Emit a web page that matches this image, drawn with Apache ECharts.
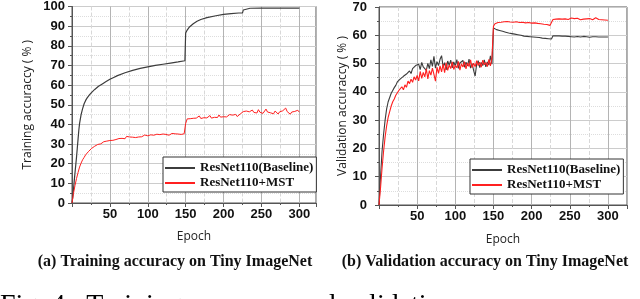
<!DOCTYPE html>
<html>
<head>
<meta charset="utf-8">
<script src="https://cdn.jsdelivr.net/npm/echarts@6/dist/echarts.min.js"></script>
<style>
html,body{margin:0;padding:0;background:#fff;}
#c{width:640px;height:299px;}
</style>
</head>
<body>
<div id="c"></div>
<script>
// ---- data ----
const seriesNames = ['ResNet110(Baseline)', 'ResNet110+MST'];
const xTickLabels = [50, 100, 150, 200, 250, 300];

// Training accuracy, baseline (smooth curve, sampled epochs)
const trainBaseEpochs = [0,1,2,3,4,5,6,7,8,9,10,12,14,16,18,20,23,26,30,35,40,45,50,55,60,70,80,90,100,110,120,130,140,149,150,152,155,160,165,170,178,190,200,210,220,225,226,228,235,250,275,300];
const trainBaseAcc = [0,3,7,11.5,15.5,19.5,23.5,28,32.5,37,40.5,45,48,50.5,52.2,53.5,55,56.3,57.8,59.4,60.6,61.8,63,63.9,64.8,66.3,67.5,68.5,69.3,70,70.6,71.2,71.8,72.4,86.5,88,89.6,91.2,92.5,93.4,94.3,95.3,96,96.4,96.7,96.8,98.2,98.7,99.1,99.2,99.2,99.2];

// Noisy series sampled every 2 epochs (0..300)
const epochs2 = Array.from({length: 151}, (_, i) => i * 2);

const trainMstAcc = [
 0,5,9,12.5,15.5,18.3,20.3,22,23.2,24.5,25.2,26.3,26.9,27.8,28.1,28.9,29.2,29.8,30.2,30.1,30.8,31.2,30.9,31.5,31.3,
 31.8,32.2,31.9,32.5,32.3,32.1,32.8,32.4,32.9,33.4,32.7,33.9,33.2,33.6,34.3,33.5,33.8,33.3,34.1,33.6,
 34.4,33.7,33.9,34.6,33.8,34.2,34.0,34.7,33.9,34.5,34.3,35.0,34.4,34.8,34.2,35.1,34.6,34.9,35.3,34.5,
 35.0,35.4,34.8,35.2,36.0,35.1,35.5,34.9,35.8,35.2,
 40.5,42.8,43.6,42.9,43.8,43.1,44.0,43.2,43.5,44.3,43.0,43.9,43.4,44.1,43.3,43.8,44.5,43.2,44.0,43.6,
 44.2,43.5,44.8,43.7,44.4,43.9,44.6,43.8,44.3,45.0,44.1,44.7,44.2,45.1,44.0,44.6,45.3,44.4,46.5,45.7,
 46.8,45.9,46.4,45.5,47.3,46.1,46.7,45.8,47.5,46.2,46.9,45.6,46.6,47.8,46.3,47.1,45.9,46.5,45.4,46.8,
 46.0,45.3,46.4,45.7,46.9,47.2,48.3,46.5,47.4,45.2,46.3,45.8,46.6,45.9,47.2,46.2
];

const valBaseAcc = [
 0,10,19,25,30,34,36.5,38,39.5,40.5,41.5,42.3,43.5,42.8,44.6,44.2,45.5,44.8,46.3,45.7,47.4,46.5,48.2,47.6,49.3,
 48.6,49.8,47.9,50.4,48.8,49.5,47.6,50.1,48.2,51.3,49.0,52.6,48.4,50.7,49.3,51.5,52.8,48.9,50.3,47.8,
 50.9,49.4,51.2,48.5,50.6,49.1,51.4,48.3,50.2,49.6,51.1,48.7,50.5,49.2,51.6,48.4,50.0,47.6,45.6,49.8,
 51.0,48.6,50.4,49.3,51.3,48.8,50.6,49.5,52.7,49.8,
 62.6,62.3,62.0,61.9,61.7,61.6,61.4,61.2,61.1,60.9,60.8,60.7,60.6,60.5,60.4,60.3,60.2,60.1,60.0,59.8,
 59.7,59.7,59.6,59.5,59.5,59.4,59.4,59.3,59.3,59.2,59.2,59.1,59.0,59.0,58.9,58.8,58.8,58.6,58.7,59.8,
 59.9,59.8,59.7,59.8,59.6,59.7,59.6,59.7,59.5,59.6,59.6,59.5,59.6,59.4,59.5,59.6,59.5,59.4,59.5,59.6,
 59.4,59.5,59.5,59.3,59.4,59.5,59.4,59.5,59.3,59.4,59.5,59.4,59.3,59.4,59.5,59.4
];

const valMstAcc = [
 0,6,13,19,24,28,31,33,35,36.5,37.5,38.8,39.2,40.5,39.8,41.8,40.7,42.5,41.6,43.8,42.9,44.5,43.4,45.3,44.2,
 45.8,43.9,47.2,44.8,46.9,45.3,48.1,44.6,47.5,45.9,48.4,46.2,43.8,48.7,46.5,49.2,47.1,49.8,46.8,50.3,
 47.6,49.5,48.2,50.6,47.9,49.4,48.5,50.8,47.7,49.9,48.8,50.7,48.1,50.2,49.0,51.3,48.6,50.1,48.9,51.0,
 49.3,50.5,48.7,51.2,49.6,50.4,48.9,51.5,49.2,52.0,
 63.2,64.1,63.7,64.5,64.0,64.6,64.2,64.8,64.3,64.9,64.4,64.7,64.1,64.6,64.3,64.8,64.2,64.5,64.0,64.6,
 64.2,64.4,63.9,64.5,64.1,64.3,63.8,64.4,63.9,64.2,63.7,64.1,63.6,63.9,63.4,63.8,63.2,63.5,63.0,65.6,
 65.9,65.7,66.1,65.8,66.0,65.7,66.2,65.8,66.0,65.6,65.9,66.1,65.7,65.9,65.6,66.0,65.8,65.5,65.9,65.7,
 66.1,65.8,65.6,65.9,65.7,65.5,65.8,66.2,65.9,65.6,65.8,65.5,65.7,65.4,65.6,65.3
];

const captions = ['(a) Training accuracy on Tiny ImageNet', '(b) Validation accuracy on Tiny ImageNet'];
const figText = 'Fig. 4.  Training accuracy and validation accuracy curves in';

// ---- chart ----
const zip = (xs, ys) => xs.map((x, i) => [x, ys[i]]);
const BLACK = '#3c3c3c', RED = '#ff2020';
const tickFont = {fontFamily: '"Liberation Sans", Arial, sans-serif', fontWeight: 'bold', fontSize: 13, color: '#111'};
const nameFont = {fontFamily: '"Open Sans", sans-serif', fontSize: 12, color: '#222'};

function xAx(grid, max, gap) {
  return {
    gridIndex: grid, type: 'value', min: 0, max: max, interval: 50,
    name: 'Epoch', nameLocation: 'middle', nameGap: gap, nameTextStyle: nameFont,
    axisLine: {show: true, lineStyle: {color: '#555', width: 1}},
    axisTick: {show: true, inside: false, length: 4, lineStyle: {color: '#555'}},
    minorTick: {show: true, splitNumber: 2, length: 2, lineStyle: {color: '#555'}},
    axisLabel: Object.assign({margin: 5, formatter: v => (xTickLabels.indexOf(v) >= 0 ? String(v) : '')}, tickFont),
    splitLine: {show: true, lineStyle: {color: '#b4b4b4', width: 1, type: 'solid'}},
    minorSplitLine: {show: true, lineStyle: {color: '#d8d8d8', width: 1, type: 'dashed'}}
  };
}
function yAx(grid, max, name, gap, margin) {
  return {
    gridIndex: grid, type: 'value', min: 0, max: max, interval: 10,
    name: name, nameLocation: 'middle', nameGap: gap, nameTextStyle: nameFont,
    axisLine: {show: true, lineStyle: {color: '#555', width: 1}},
    axisTick: {show: true, inside: false, length: 4, lineStyle: {color: '#555'}},
    minorTick: {show: true, splitNumber: 2, length: 2, lineStyle: {color: '#555'}},
    axisLabel: Object.assign({margin: margin}, tickFont),
    splitLine: {show: true, lineStyle: {color: '#cccccc', width: 1, type: 'solid'}},
    minorSplitLine: {show: true, lineStyle: {color: '#dddddd', width: 1, type: 'dotted'}}
  };
}
function legendAt(left, top) {
  return {
    left: left, top: top, orient: 'vertical', selectedMode: false,
    icon: 'rect', itemWidth: 30, itemHeight: 2, itemGap: 1, padding: [4, 3, 2, 2],
    borderColor: '#333', borderWidth: 1, backgroundColor: '#fff',
    textStyle: {fontFamily: '"Liberation Serif", "Times New Roman", serif', fontWeight: 'bold', fontSize: 13, color: '#111', lineHeight: 14},
    data: seriesNames
  };
}
function line(name, data, color, xi, w) {
  return {name: name, type: 'line', xAxisIndex: xi, yAxisIndex: xi, data: data,
    showSymbol: false, symbol: 'none', smooth: false, lineStyle: {color: color, width: w}, itemStyle: {color: color}, z: 3};
}

const chart = echarts.init(document.getElementById('c'), null, {renderer: 'canvas'});
chart.setOption({
  animation: false,
  grid: [
    {left: 72, top: 6, width: 244, height: 197, show: true, borderColor: '#555', borderWidth: 1, backgroundColor: 'rgba(0,0,0,0)'},
    {left: 379, top: 7, width: 248, height: 198, show: true, borderColor: '#555', borderWidth: 1, backgroundColor: 'rgba(0,0,0,0)'}
  ],
  xAxis: [xAx(0, 322, 28), xAx(1, 325, 29)],
  yAxis: [yAx(0, 100, 'Training accuraccy ( % )', 38, 7), yAx(1, 70, 'Validation accuraccy ( % )', 29, 12)],
  legend: [legendAt(163, 157), legendAt(470, 159)],
  series: [
    line(seriesNames[0], zip(trainBaseEpochs, trainBaseAcc), BLACK, 0, 1.2),
    line(seriesNames[1], zip(epochs2, trainMstAcc), RED, 0, 1),
    line(seriesNames[0], zip(epochs2, valBaseAcc), BLACK, 1, 1.1),
    line(seriesNames[1], zip(epochs2, valMstAcc), RED, 1, 1.1)
  ],
  graphic: [
    {type: 'text', x: 175, y: 262, style: {text: captions[0], font: 'bold 16px "Liberation Serif", serif', fill: '#111', align: 'center', verticalAlign: 'middle'}},
    {type: 'text', x: 485, y: 262, style: {text: captions[1], font: 'bold 16px "Liberation Serif", serif', fill: '#111', align: 'center', verticalAlign: 'middle'}},
    {type: 'text', x: 0, y: 292, style: {text: figText, font: '28px "Liberation Serif", serif', fill: '#000', align: 'left', verticalAlign: 'top'}}
  ]
});
</script>
</body>
</html>
